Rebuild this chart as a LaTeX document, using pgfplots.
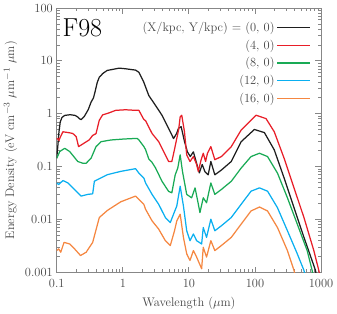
\documentclass[border=0pt]{standalone}
\usepackage{pgfplots}
\pgfplotsset{compat=1.18}
\definecolor{cblack}{RGB}{30,30,30}
\definecolor{cred}{RGB}{232,30,40}
\definecolor{cgreen}{RGB}{25,170,85}
\definecolor{cblue}{RGB}{10,175,240}
\definecolor{corange}{RGB}{245,135,65}
\definecolor{txt}{RGB}{70,70,70}
\definecolor{frame}{RGB}{135,135,135}
\begin{document}
\begin{tikzpicture}
\begin{axis}[
  xmode=log, ymode=log,
  width=233.7pt, height=233.7pt, scale only axis,
  xmin=0.1, xmax=1000, ymin=0.001, ymax=100,
  xtick={0.1,1,10,100,1000}, xticklabels={0.1,1,10,100,1000},
  ytick={0.001,0.01,0.1,1,10,100}, yticklabels={0.001,0.01,0.1,1,10,100},
  tick align=inside,
  axis line style={frame, line width=0.8pt},
  every tick/.style={frame, line width=0.7pt},
  major tick length=5pt, minor tick length=3pt,
  tick label style={text=txt, font=\fontsize{11}{13}\selectfont},
  xticklabel style={yshift=-3pt},
  label style={text=txt, font=\fontsize{11}{13}\selectfont},
  xlabel={Wavelength ($\mu$m)},
  ylabel={Energy Density (eV cm$^{-3}$ $\mu$m$^{-1}$ $\mu$m)},
  xlabel style={yshift=-1pt},
  legend plot pos=right,
  legend cell align=right,
  legend style={draw=none, fill=none, at={(0.975,0.965)}, anchor=north east,
    text=txt, row sep=1.9pt, font=\fontsize{11}{13}\selectfont},
  legend image code/.code={\draw[#1, line width=1.1pt] (0pt,0pt) -- (29pt,0pt);},
  every axis plot/.append style={line width=1.1pt, line join=round},
]
\addplot[cblack] coordinates {(0.1,0.144)(0.104,0.25)(0.108,0.45)(0.113,0.7)(0.12,0.85)(0.132,0.93)(0.16,0.96)(0.19,0.93)(0.21,0.86)(0.222,0.8)(0.234,0.776)(0.26,0.88)(0.3,1.2)(0.331,1.66)(0.36,2.0)(0.38,2.6)(0.41,3.9)(0.44,4.9)(0.5,5.8)(0.58,6.6)(0.7,6.9)(0.88,7.3)(1.1,7.1)(1.3,6.9)(1.56,6.7)(1.75,6.1)(2.08,3.94)(2.47,2.22)(3.12,1.44)(3.91,0.94)(4.93,0.53)(5.86,0.34)(6.5,0.42)(6.96,0.53)(7.64,0.57)(8.57,0.3)(9.5,0.19)(10.5,0.155)(11.7,0.19)(13.1,0.115)(14.4,0.076)(15.9,0.11)(17.5,0.08)(19.6,0.07)(21.5,0.125)(24.7,0.07)(31,0.086)(43.8,0.125)(61.8,0.296)(98,0.504)(139,0.44)(196,0.207)(276,0.061)(390,0.0167)(551,0.0046)(822,0.0011)(900,0.0006)};
\addlegendentry{(X/kpc, Y/kpc) = (0, 0)}
\addplot[cred] coordinates {(0.1,0.33)(0.104,0.342)(0.108,0.31)(0.113,0.36)(0.124,0.456)(0.15,0.44)(0.175,0.424)(0.197,0.368)(0.214,0.239)(0.25,0.27)(0.31,0.32)(0.35,0.39)(0.393,0.42)(0.44,0.75)(0.494,0.95)(0.62,1.04)(0.78,1.16)(1.1,1.19)(1.56,1.16)(1.75,1.16)(2.08,0.78)(2.21,0.74)(2.77,0.424)(3.49,0.296)(4.15,0.193)(4.93,0.125)(5.52,0.125)(6.0,0.2)(6.56,0.342)(7.0,0.5)(7.38,0.87)(7.8,0.937)(8.57,0.456)(9.27,0.167)(10.4,0.125)(11.7,0.155)(13.1,0.11)(13.9,0.081)(15.2,0.13)(16.5,0.179)(17.9,0.125)(19.1,0.179)(21.5,0.239)(24.7,0.135)(31,0.155)(43.8,0.239)(61.8,0.491)(104,0.937)(147,0.81)(196,0.456)(276,0.144)(390,0.0396)(551,0.0109)(778,0.00258)(925,0.00109)(1000,0.0007)};
\addlegendentry{(4, 0)}
\addplot[cgreen] coordinates {(0.1,0.144)(0.111,0.193)(0.132,0.222)(0.157,0.193)(0.208,0.125)(0.248,0.116)(0.279,0.116)(0.331,0.144)(0.393,0.239)(0.467,0.296)(0.66,0.319)(1.044,0.333)(1.65,0.342)(1.75,0.32)(2.08,0.24)(2.21,0.21)(2.47,0.14)(2.77,0.12)(3.12,0.095)(3.91,0.053)(4.93,0.034)(5.52,0.032)(6.21,0.07)(6.79,0.094)(7.38,0.167)(8.0,0.081)(9.27,0.0298)(11.0,0.0257)(12.4,0.0396)(13.9,0.0194)(14.7,0.0135)(16.5,0.0257)(18.5,0.0207)(21.5,0.0491)(24.7,0.0298)(31,0.0369)(43.8,0.0528)(61.8,0.0938)(87.3,0.155)(117,0.179)(155,0.155)(219,0.0755)(310,0.0257)(437,0.00817)(617,0.00258)(733,0.00109)(800,0.0006)};
\addlegendentry{(8, 0)}
\addplot[cblue] coordinates {(0.1,0.0491)(0.107,0.0458)(0.124,0.0545)(0.148,0.0491)(0.186,0.0369)(0.234,0.0277)(0.294,0.0298)(0.35,0.0306)(0.371,0.0528)(0.416,0.0569)(0.587,0.0705)(0.931,0.0813)(1.56,0.0914)(1.75,0.0755)(2.08,0.0609)(2.21,0.0491)(2.77,0.0298)(3.49,0.0194)(4.4,0.0109)(5.23,0.00875)(5.86,0.0126)(6.56,0.018)(7.38,0.0426)(8.27,0.018)(9.27,0.00612)(10.4,0.00397)(11.7,0.00531)(13.1,0.00397)(15.6,0.00344)(16.5,0.00705)(18.5,0.00458)(21.5,0.0101)(24.7,0.00612)(31,0.00759)(43.8,0.0109)(61.8,0.0194)(87.3,0.0343)(117,0.0396)(155,0.0343)(219,0.0167)(310,0.00612)(437,0.00224)(551,0.00109)(600,0.0007)};
\addlegendentry{(12, 0)}
\addplot[corange] coordinates {(0.1,0.00258)(0.107,0.00278)(0.115,0.0024)(0.129,0.00369)(0.157,0.00344)(0.186,0.00278)(0.229,0.00208)(0.279,0.0024)(0.35,0.00369)(0.441,0.0109)(0.587,0.0149)(0.931,0.0216)(1.56,0.0277)(1.75,0.024)(2.08,0.0194)(2.21,0.0156)(2.77,0.00942)(3.49,0.00658)(4.4,0.00397)(5.23,0.00321)(6.06,0.00612)(6.56,0.00942)(7.38,0.0126)(8.27,0.00458)(9.27,0.00224)(10.4,0.00168)(11.7,0.00258)(13.1,0.00194)(15.6,0.00117)(16.5,0.00298)(18.5,0.00194)(21.5,0.00397)(24.7,0.00258)(31,0.00321)(43.8,0.00458)(61.8,0.00817)(87.3,0.0145)(117,0.0172)(155,0.0145)(219,0.00705)(310,0.00258)(390,0.00109)(420,0.0007)};
\addlegendentry{(16, 0)}
\node[anchor=north west, inner sep=0pt, font=\fontsize{23}{25}\selectfont] at ([xshift=5pt,yshift=-9pt]rel axis cs:0,1) {F98};
\end{axis}
\end{tikzpicture}
\end{document}
